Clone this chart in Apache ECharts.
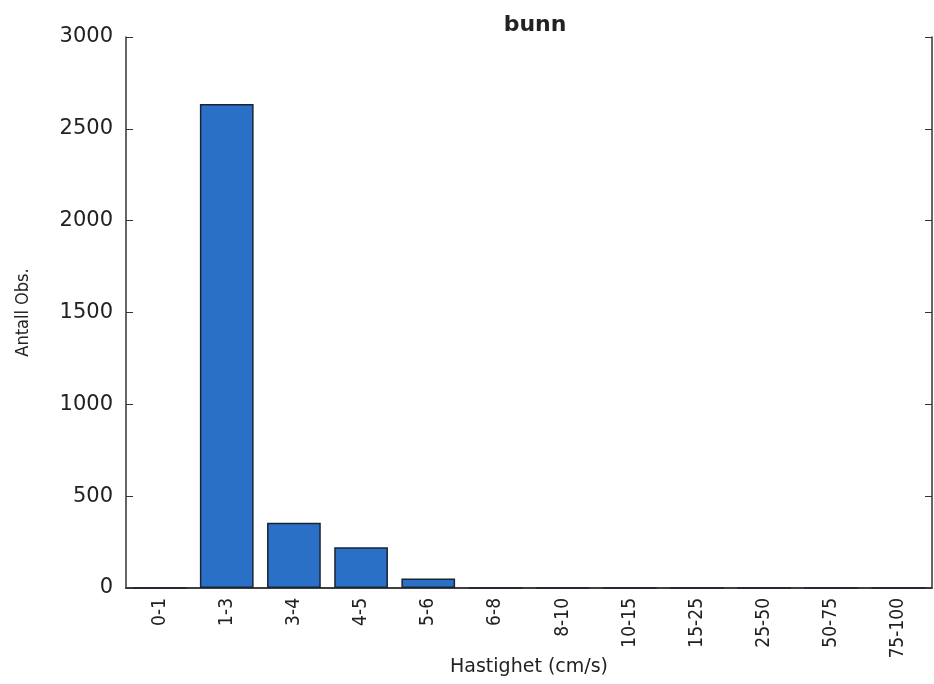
<!DOCTYPE html>
<html><head><meta charset="utf-8">
<script src="https://cdn.jsdelivr.net/npm/echarts@6/dist/echarts.min.js"></script>
<style>html,body{margin:0;padding:0;background:#fff}#c{width:934px;height:684px}</style>
</head><body><div id="c"></div>
<script>
const categories = ['0-1','1-3','3-4','4-5','5-6','6-8','8-10','10-15','15-25','25-50','50-75','75-100'];
const counts = [0, 2635, 355, 222, 52, 0, 0, 0, 0, 0, 0, 0];
const yTicks = [0, 500, 1000, 1500, 2000, 2500, 3000];

const chart = echarts.init(document.getElementById('c'));
const axisCol = '#333';
chart.setOption({
  animation: false,
  backgroundColor: '#fff',
  title: {text: 'bunn', left: 530, textAlign: 'center', top: 9,
    textStyle: {fontFamily: 'DejaVu Sans', fontWeight: 'bold', fontSize: 22, color: '#222'}},
  grid: {left: 126, right: 2, top: 37, bottom: 96, containLabel: false, outerBoundsMode: 'none'},
  xAxis: [{
    type: 'category', data: categories, boundaryGap: true,
    name: 'Hastighet (cm/s)', nameLocation: 'middle', nameGap: 70, nameMoveOverlap: false,
    nameTextStyle: {fontFamily: 'DejaVu Sans', fontSize: 19, color: '#222'},
    axisLine: {lineStyle: {color: axisCol, width: 1.5}},
    axisTick: {inside: true, alignWithLabel: true, length: 6, lineStyle: {color: axisCol}},
    axisLabel: {rotate: 90, margin: 10, fontFamily: 'DejaVu Sans Condensed, Liberation Sans, sans-serif', fontSize: 19, color: '#222'}
  }, {
    type: 'category', data: categories, position: 'top',
    axisLine: {lineStyle: {color: axisCol, width: 1.5}},
    axisTick: {inside: true, alignWithLabel: true, length: 6, lineStyle: {color: axisCol}},
    axisLabel: {show: false}
  }],
  yAxis: [{
    type: 'value', min: 0, max: 3000, interval: 500,
    name: 'Antall Obs.', nameLocation: 'middle', nameGap: 94, nameMoveOverlap: false,
    nameTextStyle: {fontFamily: 'DejaVu Sans Condensed, Liberation Sans, sans-serif', fontSize: 18, color: '#222'},
    axisLine: {show: true, lineStyle: {color: axisCol, width: 1.5}},
    axisTick: {show: true, inside: true, length: 7, lineStyle: {color: axisCol}},
    splitLine: {show: false},
    axisLabel: {margin: 13, fontFamily: 'DejaVu Sans', fontSize: 21, color: '#222',
      formatter: v => yTicks.includes(v) ? String(v) : ''}
  }, {
    type: 'value', min: 0, max: 3000, interval: 500, position: 'right',
    axisLine: {show: true, lineStyle: {color: axisCol, width: 1.5}},
    axisTick: {show: true, inside: true, length: 7, lineStyle: {color: axisCol}},
    splitLine: {show: false}, axisLabel: {show: false}
  }],
  series: [{
    type: 'bar', data: counts, xAxisIndex: 0, yAxisIndex: 0, barWidth: '80%',
    itemStyle: {color: '#2a70c6', borderColor: '#1b2433', borderWidth: 1.5}
  }]
});
</script></body></html>
